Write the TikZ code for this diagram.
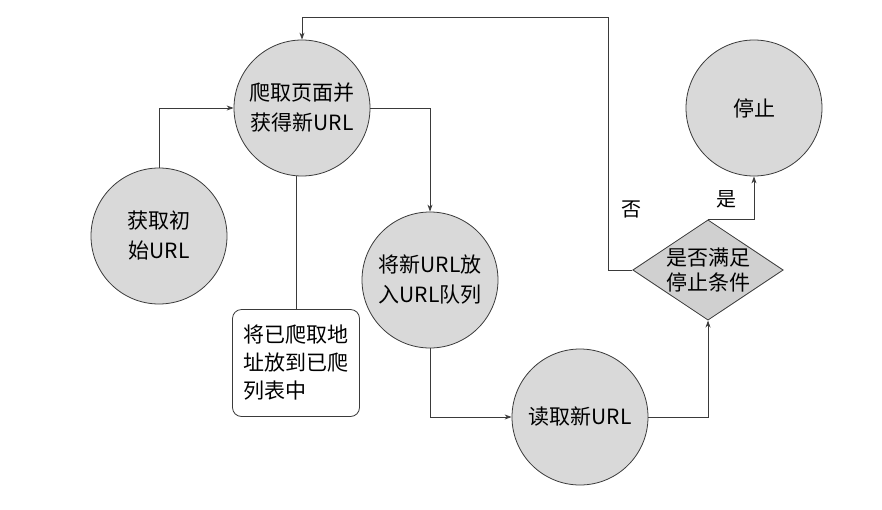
\documentclass[tikz,border=0pt]{standalone}
\usepackage{fontspec}
\setmainfont{Noto Sans CJK SC}
\usepackage{tikz}
\usetikzlibrary{arrows.meta, shapes.geometric}
\definecolor{edgegray}{HTML}{3A3A3A}
\definecolor{stategray}{HTML}{D9D9D9}
\definecolor{condgray}{HTML}{D0D0D0}

\begin{document}
\begin{tikzpicture}[
  x=1pt, y=-1pt,
  >={Stealth[length=7pt, width=5pt]},
  link/.style = {draw=edgegray, line width=0.8pt},
  state/.style = {circle, draw=edgegray, line width=0.8pt, fill=stategray,
                  minimum size=136pt, inner sep=0pt, align=center,
                  font=\fontsize{21}{30}\selectfont},
  listbox/.style = {draw=edgegray, line width=0.8pt, fill=white,
                    rounded corners=9pt, align=left,
                    minimum width=127pt, minimum height=107pt, inner sep=0pt,
                    font=\fontsize{21}{28}\selectfont},
  decision/.style = {diamond, aspect=1.5, draw=edgegray, line width=0.8pt,
                     fill=condgray, inner sep=0pt, align=center,
                     font=\fontsize{21}{25}\selectfont},
  lab/.style = {font=\fontsize{20}{24}\selectfont, inner sep=0pt}
]
\useasboundingbox (0,0) rectangle (882,509);

\node[state] (start) at (159,236) {获取初\\始URL};
\node[state] (crawl) at (302,108) {爬取页面并\\获得新URL};
\node[listbox] (visited) at (296,363) {将已爬取地\\址放到已爬\\列表中};
\node[state] (queue) at (430,280) {将新URL放\\入URL队列};
\node[state] (read) at (580,417) {读取新URL};
\node[decision] (cond) at (708,270) {是否满足\\停止条件};
\node[state] (stop) at (754,108) {停止};

\coordinate (loop) at (608,17);

\draw[link, ->] (start.north) |- (crawl.west);
\draw[link] (crawl.south -| visited.north) -- (visited.north);
\draw[link, ->] (crawl.east) -| (queue.north);
\draw[link, ->] (queue.south) |- (read.west);
\draw[link, ->] (read.east) -| (cond.south);
\draw[link, ->] (cond.north) -| (stop.south);
\draw[link, ->] (cond.west) -| (loop) -| (crawl.north);

\node[lab] (no) at (631,209) {否};
\node[lab] (yes) at (726,199) {是};
\end{tikzpicture}
\end{document}
